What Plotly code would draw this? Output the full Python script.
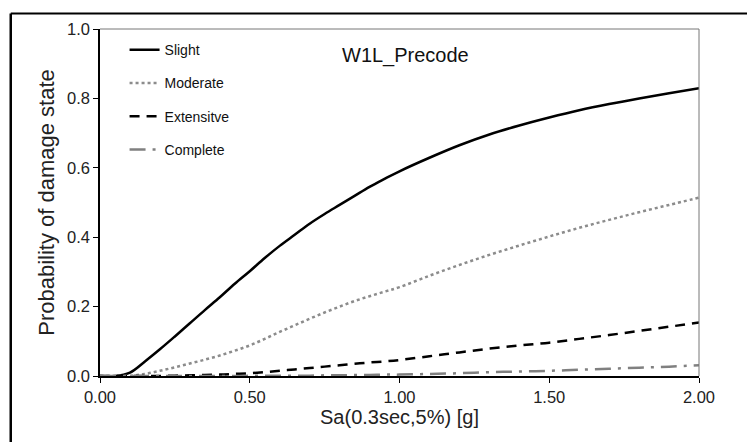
import plotly.graph_objects as go

sa = [0, 0.05, 0.1, 0.15, 0.2, 0.25, 0.3, 0.35, 0.4, 0.45, 0.5,
      0.55, 0.6, 0.65, 0.7, 0.75, 0.8, 0.85, 0.9, 0.95, 1.0,
      1.1, 1.2, 1.3, 1.4, 1.5, 1.6, 1.7, 1.8, 1.9, 2.0]

slight = [0, 0, 0.01, 0.042, 0.077, 0.114, 0.152, 0.19, 0.227, 0.266, 0.302,
          0.34, 0.375, 0.407, 0.439, 0.467, 0.493, 0.519, 0.545, 0.568, 0.59,
          0.629, 0.665, 0.696, 0.722, 0.745, 0.766, 0.784, 0.80, 0.815, 0.829]
moderate = [0, 0, 0.001, 0.006, 0.015, 0.025, 0.036, 0.047, 0.059, 0.073, 0.088,
            0.107, 0.127, 0.146, 0.165, 0.183, 0.20, 0.216, 0.23, 0.243, 0.256,
            0.289, 0.32, 0.349, 0.376, 0.402, 0.427, 0.45, 0.472, 0.493, 0.514]
extensive = [0, 0, 0, 0, 0, 0.001, 0.002, 0.003, 0.004, 0.006, 0.008,
             0.011, 0.015, 0.019, 0.023, 0.027, 0.031, 0.035, 0.039, 0.042, 0.046,
             0.057, 0.068, 0.079, 0.088, 0.096, 0.107, 0.118, 0.13, 0.142, 0.154]
complete = [0, 0, 0, 0, 0, 0, 0, 0, 0, 0, 0.0005,
            0.001, 0.001, 0.001, 0.001, 0.002, 0.002, 0.003, 0.003, 0.004, 0.004,
            0.006, 0.008, 0.011, 0.013, 0.015, 0.018, 0.021, 0.024, 0.027, 0.031]

fig = go.Figure()
fig.add_trace(go.Scatter(x=sa, y=slight, mode='lines', name='Slight', legendgroup='a',
                         line=dict(color='black', width=2.5, shape='spline')))
fig.add_trace(go.Scatter(x=sa, y=moderate, mode='lines', name='Moderate', legendgroup='b',
                         line=dict(color='#8c8c8c', width=2.5, dash='dot', shape='spline')))
fig.add_trace(go.Scatter(x=sa, y=extensive, mode='lines', name='Extensitve', legendgroup='c',
                         line=dict(color='black', width=2.5, dash='10px,7px', shape='spline')))
fig.add_trace(go.Scatter(x=sa, y=complete, mode='lines', name='Complete', legendgroup='d',
                         line=dict(color='#808080', width=2.5, dash='16px,7px,3px,7px', shape='spline')))

fig.add_annotation(text='W1L_Precode', x=0.51, y=0.923, xref='paper', yref='paper',
                   xanchor='center', yanchor='middle',
                   showarrow=False, font=dict(size=20, color='#111'))

# outer frame (left and top edges) and the thin top/right plot box
fig.add_shape(type='line', xref='paper', yref='paper', x0=-0.149, x1=1.2, y0=1.045, y1=1.045,
              line=dict(color='black', width=2))
fig.add_shape(type='line', xref='paper', yref='paper', x0=-0.149, x1=-0.149, y0=1.045, y1=-0.3,
              line=dict(color='black', width=2.5))
fig.add_shape(type='line', xref='paper', yref='paper', x0=0, x1=1, y0=1, y1=1,
              line=dict(color='#777', width=1))
fig.add_shape(type='line', xref='paper', yref='paper', x0=1, x1=1, y0=0, y1=1,
              line=dict(color='#777', width=1))

# page body has an 8px margin, so the figure is a bit smaller and shifted
fig.update_layout(
    width=747, height=434,
    margin=dict(l=92, r=56, t=17, b=66),
    paper_bgcolor='white', plot_bgcolor='white',
    font=dict(family='Liberation Sans, Arial, sans-serif', color='#222'),
    showlegend=True,
    legend=dict(x=0.041, y=0.985, xanchor='left', yanchor='top', bgcolor='rgba(0,0,0,0)',
                font=dict(size=14, color='#111'), tracegroupgap=12),
    xaxis=dict(range=[0, 2], tickvals=[0, 0.5, 1, 1.5, 2], tickformat='.2f',
               showgrid=False, zeroline=False, showline=True, linecolor='black', linewidth=1.5,
               ticks='outside', ticklen=5, tickcolor='black', tickfont=dict(size=16.5),
               title=dict(text='Sa(0.3sec,5%) [g]', font=dict(size=20), standoff=4)),
    yaxis=dict(range=[0, 1], tickvals=[0, 0.2, 0.4, 0.6, 0.8, 1.0], tickformat='.1f',
               showgrid=False, zeroline=False, showline=True, linecolor='black', linewidth=1.5,
               ticks='outside', ticklen=5, tickcolor='black', tickfont=dict(size=16.5),
               title=dict(text='Probability of damage state', font=dict(size=22), standoff=6)),
)

fig.write_html("out.html")
